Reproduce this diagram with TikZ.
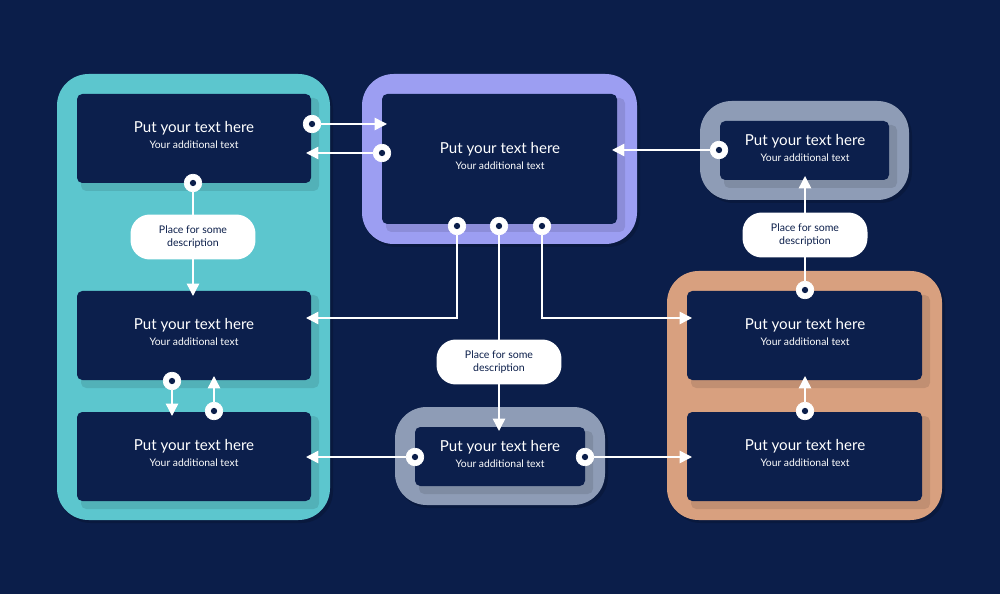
\documentclass[tikz,border=0pt]{standalone}
\usepackage{fontspec}
\setmainfont{Lato}
\usetikzlibrary{arrows.meta,calc}
\definecolor{bg}{HTML}{0B1E4A}
\definecolor{inner}{HTML}{0C1F4C}
\definecolor{teal}{HTML}{5CC6CE}
\definecolor{purp}{HTML}{9C9EF2}
\definecolor{grayb}{HTML}{8E9CB6}
\definecolor{orng}{HTML}{D8A07F}
\tikzset{
  frame/.style={rounded corners=18pt},
  ibox/.style={fill=inner,rounded corners=3pt},
  conn/.style={white,line width=0.8pt,-{Triangle[length=7pt,width=7pt]}},
  dotc/.style={circle,fill=white,draw=white,minimum size=10pt,inner sep=0pt,path picture={\fill[bg] (path picture bounding box.center) circle (1.8pt);}},
  pill/.style={fill=white,rounded corners=11pt,minimum width=2.5cm,minimum height=0.9cm,align=center,font=\fontsize{6}{7.5}\selectfont,text=bg},
  lbl/.style={align=center,text=white}
}
\newcommand{\ttxt}[2]{\node[lbl] (#1) at (#2) {{\fontsize{8.6}{10}\selectfont Put your text here}\\[-3pt]{\fontsize{5.9}{7}\selectfont Your additional text}};}
\begin{document}
\begin{tikzpicture}[x=0.02cm,y=-0.02cm]
\fill[bg] (0,0) rectangle (1000,594);
\useasboundingbox (0,0) rectangle (1000,594);
% frames
\fill[black,opacity=0.15,frame] (59,77) rectangle (333,523);
\fill[teal,frame] (57,74) rectangle (330,520);
\fill[black,opacity=0.15,frame] (364,77) rectangle (640,247);
\fill[purp,frame] (362,74) rectangle (637,244);
\fill[black,opacity=0.15,frame] (702,104) rectangle (912,203);
\fill[grayb,frame] (700,101) rectangle (909,200);
\fill[black,opacity=0.15,frame] (669,274) rectangle (945,523);
\fill[orng,frame] (667,271) rectangle (942,520);
\fill[black,opacity=0.15,frame] (397,410) rectangle (608,508);
\fill[grayb,frame] (395,407) rectangle (605,505);
% inner boxes with shadows
\foreach \a/\b/\c/\d in {77/94/311/183, 77/291/311/380, 77/412/311/501, 382/94/617/224, 720/121/889/180, 687/291/922/380, 687/412/922/501, 415/427/585/486}{
  \fill[black,opacity=0.1,rounded corners=3pt] (\a+4,\b+4) rectangle (\c+8,\d+8);
  \fill[ibox] (\a,\b) rectangle (\c,\d);
}
\ttxt{t1}{194,135}
\ttxt{t2}{194,332}
\ttxt{t3}{194,453}
\ttxt{t4}{500,156}
\ttxt{t5}{805,148}
\ttxt{t6}{805,332}
\ttxt{t7}{805,453}
\ttxt{t8}{500,454}
% connectors
\coordinate (e1) at (387,124);
\coordinate (e2) at (306,153);
\coordinate (e3) at (193,296);
\coordinate (e4) at (306,318);
\coordinate (e5) at (499,431);
\coordinate (e6) at (692,318);
\coordinate (e7) at (612,150);
\coordinate (e8) at (805,176);
\coordinate (e9) at (805,376);
\coordinate (e10) at (172,416);
\coordinate (e11) at (214,376);
\coordinate (e12) at (306,457);
\coordinate (e13) at (692,457);
\node[dotc] (d1) at (312,124) {};
\node[dotc] (d2) at (382,153) {};
\node[dotc] (d3) at (193,183) {};
\node[dotc] (d4) at (457,226) {};
\node[dotc] (d5) at (499,226) {};
\node[dotc] (d6) at (542,226) {};
\node[dotc] (d7) at (719,150) {};
\node[dotc] (d8) at (805,290) {};
\node[dotc] (d9) at (805,411) {};
\node[dotc] (d10) at (172,381) {};
\node[dotc] (d11) at (214,411) {};
\node[dotc] (d12) at (415,457) {};
\node[dotc] (d13) at (585,457) {};
\draw[conn] (d1) -- (e1);
\draw[conn] (d2) -- (e2);
\draw[conn] (d3) -- (e3);
\draw[conn] (d4) |- (e4);
\draw[conn] (d5) -- (e5);
\draw[conn] (d6) |- (e6);
\draw[conn] (d7) -- (e7);
\draw[conn] (d8) -- (e8);
\draw[conn] (d9) -- (e9);
\draw[conn] (d10) -- (e10);
\draw[conn] (d11) -- (e11);
\draw[conn] (d12) -- (e12);
\draw[conn] (d13) -- (e13);
% pills on top
\node[pill] (p1) at (193,237) {Place for some\\description};
\node[pill] (p2) at (499,362) {Place for some\\description};
\node[pill] (p3) at (805,235) {Place for some\\description};
\end{tikzpicture}
\end{document}
